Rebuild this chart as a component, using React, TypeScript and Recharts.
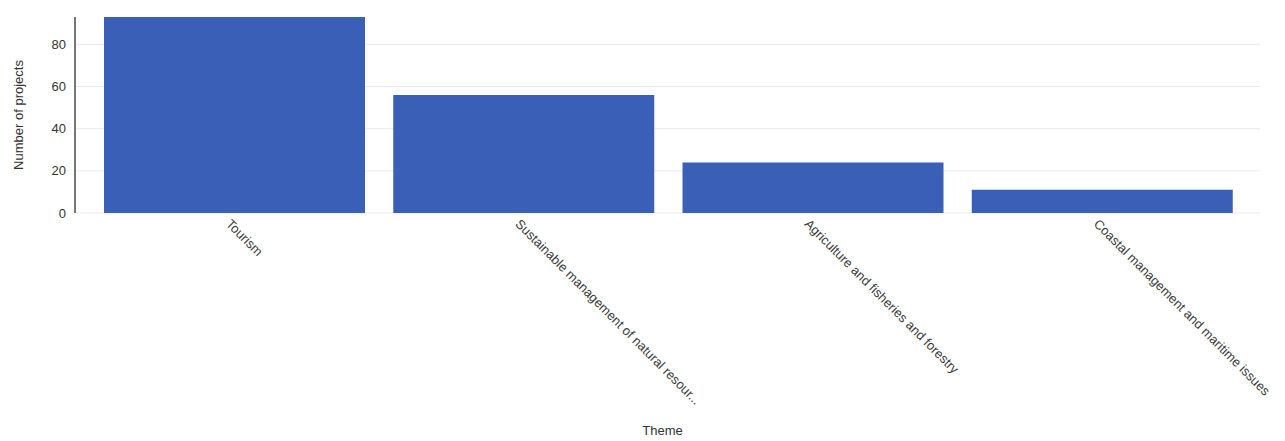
import { BarChart, Bar, XAxis, YAxis, CartesianGrid } from 'recharts';

const themes = [
  'Tourism',
  'Sustainable management of natural resources',
  'Agriculture and fisheries and forestry',
  'Coastal management and maritime issues',
];
const projectCounts = [93, 56, 24, 11];
const yTicks = [0, 20, 40, 60, 80];
const gridValues = [0, 20, 40, 60, 80];

const chartData = themes.map((theme, i) => ({ theme, count: projectCounts[i] }));

const FONT = "'Liberation Sans', Arial, sans-serif";

const shorten = (s: string) => (s.length > 40 ? s.slice(0, 40) + '...' : s);

const ThemeTick = (props: any) => {
  const { x, y, payload } = props;
  return (
    <g transform={`translate(${x},${y})`}>
      <text
        x={0}
        y={0}
        dy="0.71em"
        dx={-4}
        transform="rotate(45)"
        textAnchor="start"
        fill="#3a3a3a"
        fontSize={13}
        fontFamily={FONT}
      >
        {shorten(payload.value)}
      </text>
    </g>
  );
};

const App = () => {
  return (
    <div style={styles.wrap}>
      <BarChart
        width={1285}
        height={441}
        data={chartData}
        margin={{ top: 17, right: 25, left: 0, bottom: 0 }}
        barCategoryGap={14}
      >
        <CartesianGrid vertical={false} stroke="#e9e9e9" horizontalValues={gridValues} />
        <XAxis
          dataKey="theme"
          height={228}
          axisLine={false}
          tickLine={false}
          interval={0}
          padding={{ left: 15, right: 13 }}
          tick={<ThemeTick />}
          label={{
            value: 'Theme',
            position: 'insideBottom',
            offset: 6,
            dx: -5,
            fill: '#333',
            fontSize: 13,
            fontFamily: FONT,
          }}
        />
        <YAxis
          width={75}
          domain={[0, 93]}
          ticks={yTicks}
          tickLine={false}
          tickMargin={3}
          axisLine={{ stroke: '#777', strokeWidth: 2 }}
          tick={{ fill: '#333', fontSize: 13, fontFamily: FONT }}
          label={{
            value: 'Number of projects',
            angle: -90,
            position: 'center',
            dx: -19,
            fill: '#333',
            fontSize: 13,
            fontFamily: FONT,
          }}
        />
        <Bar dataKey="count" fill="#3a5fb6" isAnimationActive={false} />
      </BarChart>
    </div>
  );
};

const styles: any = {
  wrap: { position: 'absolute', left: 0, top: 0, background: '#fff' },
};

export default App;
